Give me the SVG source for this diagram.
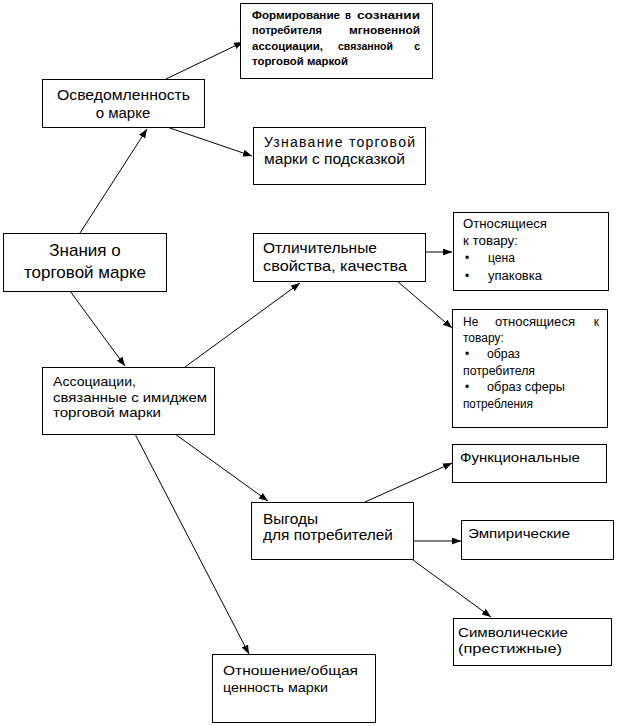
<svg xmlns="http://www.w3.org/2000/svg" width="618" height="726" viewBox="0 0 618 726">
<style>
rect{fill:#fff;stroke:#000;stroke-width:1}
text{font-family:"Liberation Sans",Arial,sans-serif;fill:#000}
.c line{stroke:#000;stroke-width:1;marker-end:url(#ah)}
.b11{font-size:10.5px;font-weight:bold}
.s12{font-size:12px}
.s13{font-size:13px}
.s14{font-size:14px}
.s15{font-size:15px}
.s17{font-size:17px}
</style>
<defs>
<marker id="ah" markerUnits="userSpaceOnUse" markerWidth="10" markerHeight="8" refX="9" refY="3.5" orient="auto">
<path d="M0,0 L9,3.5 L0,7 z" fill="#000"/>
</marker>
</defs>
<g class="c" id="connectors">
<line x1="166" y1="79" x2="243" y2="42"/>
<line x1="167" y1="127" x2="252" y2="156"/>
<line x1="80" y1="233" x2="147" y2="129"/>
<line x1="70" y1="291" x2="125" y2="366"/>
<line x1="185" y1="367" x2="300" y2="283"/>
<line x1="425" y1="252" x2="452" y2="252"/>
<line x1="397" y1="281" x2="452" y2="328"/>
<line x1="175" y1="434" x2="268" y2="501"/>
<line x1="135" y1="434" x2="249" y2="654"/>
<line x1="365" y1="502" x2="452" y2="463"/>
<line x1="413" y1="541" x2="461" y2="541"/>
<line x1="413" y1="560" x2="491" y2="617"/>
</g>
<g id="n_form">
<rect x="240.5" y="3.5" width="192" height="75"/>
<text class="b11" x="252" y="19" textLength="88" lengthAdjust="spacingAndGlyphs">Формирование</text>
<text class="b11" x="345" y="19" textLength="6" lengthAdjust="spacingAndGlyphs">в</text>
<text class="b11" x="357" y="19" textLength="63" lengthAdjust="spacingAndGlyphs">сознании</text>
<text class="b11" x="252" y="34" textLength="70" lengthAdjust="spacingAndGlyphs">потребителя</text>
<text class="b11" x="349" y="34" textLength="71" lengthAdjust="spacingAndGlyphs">мгновенной</text>
<text class="b11" x="252" y="50" textLength="71" lengthAdjust="spacingAndGlyphs">ассоциации,</text>
<text class="b11" x="338" y="50" textLength="55" lengthAdjust="spacingAndGlyphs">связанной</text>
<text class="b11" x="420" y="50" text-anchor="end">с</text>
<text class="b11" x="252" y="65" textLength="96" lengthAdjust="spacingAndGlyphs">торговой маркой</text>
</g>
<g id="n_osv">
<rect x="42.5" y="79.5" width="162" height="48"/>
<text class="s15" x="57" y="100" textLength="133" lengthAdjust="spacingAndGlyphs">Осведомленность</text>
<text class="s15" x="123" y="118" text-anchor="middle">о  марке</text>
</g>
<g id="n_uzn">
<rect x="253.5" y="127.5" width="172" height="57"/>
<text class="s14" x="264" y="147" textLength="151" lengthAdjust="spacing">Узнавание  торговой</text>
<text class="s14" x="264" y="164" textLength="141" lengthAdjust="spacingAndGlyphs">марки с подсказкой</text>
</g>
<g id="n_zn">
<rect x="3.5" y="233.5" width="163" height="58"/>
<text class="s17" x="85" y="256" text-anchor="middle">Знания о</text>
<text class="s17" x="85" y="278" text-anchor="middle">торговой марке</text>
</g>
<g id="n_otl">
<rect x="253.5" y="233.5" width="172" height="48"/>
<text class="s15" x="263" y="253" textLength="114" lengthAdjust="spacingAndGlyphs">Отличительные</text>
<text class="s15" x="263" y="271" textLength="144" lengthAdjust="spacingAndGlyphs">свойства, качества</text>
</g>
<g id="n_otn">
<rect x="453.5" y="212.5" width="155" height="78"/>
<text class="s12" x="463" y="228" textLength="84" lengthAdjust="spacingAndGlyphs">Относящиеся</text>
<text class="s12" x="463" y="245" textLength="55" lengthAdjust="spacingAndGlyphs">к товару:</text>
<text class="s12" x="465" y="262">•</text>
<text class="s12" x="488" y="262" textLength="27" lengthAdjust="spacingAndGlyphs">цена</text>
<text class="s12" x="465" y="280">•</text>
<text class="s12" x="488" y="280" textLength="54" lengthAdjust="spacingAndGlyphs">упаковка</text>
</g>
<g id="n_neotn">
<rect x="452.5" y="309.5" width="155" height="118"/>
<text class="s12" x="463" y="326">Не</text>
<text class="s12" x="495" y="326" textLength="80" lengthAdjust="spacingAndGlyphs">относящиеся</text>
<text class="s12" x="599" y="326" text-anchor="end">к</text>
<text class="s12" x="463" y="342">товару:</text>
<text class="s12" x="465" y="358">•</text>
<text class="s12" x="487" y="358" textLength="33" lengthAdjust="spacingAndGlyphs">образ</text>
<text class="s12" x="463" y="375" textLength="72" lengthAdjust="spacingAndGlyphs">потребителя</text>
<text class="s12" x="465" y="391">•</text>
<text class="s12" x="487" y="391" textLength="78" lengthAdjust="spacingAndGlyphs">образ  сферы</text>
<text class="s12" x="463" y="408" textLength="70" lengthAdjust="spacingAndGlyphs">потребления</text>
</g>
<g id="n_assoc">
<rect x="42.5" y="367.5" width="172" height="67"/>
<text class="s13" x="53" y="386" textLength="83" lengthAdjust="spacingAndGlyphs">Ассоциации,</text>
<text class="s13" x="53" y="402" textLength="154" lengthAdjust="spacingAndGlyphs">связанные с имиджем</text>
<text class="s13" x="53" y="417" textLength="108" lengthAdjust="spacingAndGlyphs">торговой марки</text>
</g>
<g id="n_vyg">
<rect x="251.5" y="502.5" width="162" height="57"/>
<text class="s14" x="263" y="524" textLength="55" lengthAdjust="spacingAndGlyphs">Выгоды</text>
<text class="s14" x="263" y="540" textLength="130" lengthAdjust="spacingAndGlyphs">для потребителей</text>
</g>
<g id="n_func">
<rect x="452.5" y="444.5" width="154" height="38"/>
<text class="s13" x="460" y="462" textLength="120" lengthAdjust="spacingAndGlyphs">Функциональные</text>
</g>
<g id="n_emp">
<rect x="461.5" y="520.5" width="152" height="39"/>
<text class="s13" x="468" y="538" textLength="102" lengthAdjust="spacingAndGlyphs">Эмпирические</text>
</g>
<g id="n_simv">
<rect x="453.5" y="618.5" width="158" height="47"/>
<text class="s13" x="458" y="637" textLength="110" lengthAdjust="spacingAndGlyphs">Символические</text>
<text class="s13" x="458" y="653" textLength="104" lengthAdjust="spacingAndGlyphs">(престижные)</text>
</g>
<g id="n_otnosh">
<rect x="212.5" y="654.5" width="163" height="68"/>
<text class="s13" x="223" y="675" textLength="135" lengthAdjust="spacingAndGlyphs">Отношение/общая</text>
<text class="s13" x="223" y="692" textLength="105" lengthAdjust="spacingAndGlyphs">ценность марки</text>
</g>
</svg>
